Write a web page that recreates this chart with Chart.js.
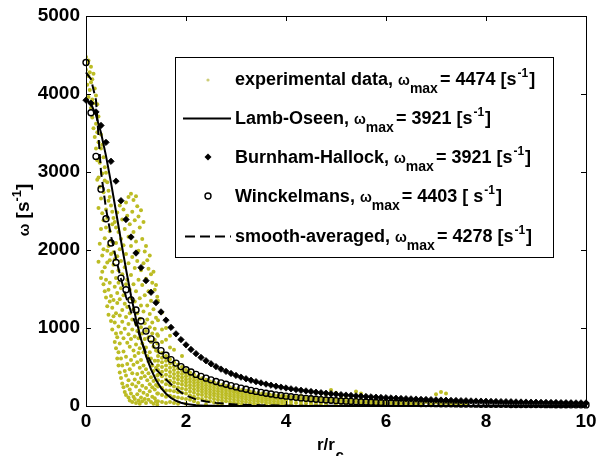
<!DOCTYPE html>
<html><head><meta charset="utf-8">
<script src="https://cdn.jsdelivr.net/npm/chart.js@4"></script>
<style>html,body{margin:0;padding:0;background:#fff}#wrap{width:596px;height:456px}</style>
</head><body><div id="wrap"><canvas id="c" width="596" height="456"></canvas></div>
<script>
// ---------- data ----------
const xTicks = [0, 2, 4, 6, 8, 10];
const yTicks = [0, 1000, 2000, 3000, 4000, 5000];

const legendNames = ['experimental data', 'Lamb-Oseen', 'Burnham-Hallock', 'Winckelmans', 'smooth-averaged'];
const legendMax = [4474, 3921, 3921, 4403, 4278];
const legendUnit = ['[s', '[s', '[s', '[ s', '[s'];

const modelR = [0,0.1,0.2,0.3,0.4,0.5,0.6,0.7,0.8,0.9,1,1.1,1.2,1.3,1.4,1.5,1.6,1.7,1.8,1.9,2,2.1,2.2,2.3,2.4,2.5,2.6,2.7,2.8,2.9,3,3.1,3.2,3.3,3.4,3.5,3.6,3.7,3.8,3.9,4,4.1,4.2,4.3,4.4,4.5,4.6,4.7,4.8,4.9,5,5.1,5.2,5.3,5.4,5.5,5.6,5.7,5.8,5.9,6,6.1,6.2,6.3,6.4,6.5,6.6,6.7,6.8,6.9,7,7.1,7.2,7.3,7.4,7.5,7.6,7.7,7.8,7.9,8,8.1,8.2,8.3,8.4,8.5,8.6,8.7,8.8,8.9,9,9.1,9.2,9.3,9.4,9.5,9.6,9.7,9.8,9.9,10];

const burnhamW = [3921,3882,3770,3597,3380,3137,2883,2632,2391,2166,1961,1774,1607,1458,1325,1206,1101,1008,925,851,784,725,671,623,580,541,505,473,444,417,392,370,349,330,312,296,281,267,254,242,231,220,210,201,193,185,177,170,163,157,151,145,140,135,130,125,121,117,113,109,106,103,99,96,93,91,88,85,83,81,78,76,74,72,70,68,67,65,63,62,60,59,57,56,55,54,52,51,50,49,48,47,46,45,44,43,42,41,40,40,39];

const winckW = [4403,3760,3200,2780,2400,2090,1840,1640,1490,1360,1230,1090,960,860,780,710,650,595,550,505,465,435,405,380,357,335,315,296,278,261,245,229,214,200,187,175,163,153,143,134,126,118,111,104,98,92,87,82,77,73,69,65,62,59,56,53,51,49,47,45,43,41,40,38,37,36,34,33,32,31,30,29,28,28,27,26,25,25,24,23,23,22,22,21,21,20,20,19,19,18,18,18,17,17,16,16,16,15,15,15,14];

const lambR = [0,0.1,0.2,0.3,0.4,0.5,0.6,0.7,0.8,0.9,1,1.1,1.2,1.3,1.4,1.5,1.6,1.7,1.8,1.9,2,2.2,2.4,2.6,2.8,3,3.5,4,5,6,7,8,9,10];
const lambW = [3921,3872,3729,3502,3207,2864,2494,2119,1755,1417,1116,858,642,469,334,232,157,104,67,42,26,9,4,2,1,0,0,0,0,0,0,0,0,0];

const smoothR = [0,0.1,0.2,0.3,0.4,0.5,0.6,0.7,0.8,0.9,1,1.1,1.2,1.3,1.4,1.5,1.6,1.7,1.8,1.9,2,2.2,2.4,2.6,2.8,3,3.5,4,5,6,7,8,9,10];
const smoothW = [4278,4190,3920,3000,2530,2180,1890,1630,1400,1210,1040,850,680,560,470,405,340,280,225,175,135,85,57,40,28,20,10,5,2,1,0,0,0,0];

// experimental scatter: [r, [omega values at that r]]
const expColumns = [
 [0,[4474,4310]],
 [0.025,[4390,4120]],
 [0.05,[4430,4230,3960]],
 [0.075,[4280,4050]],
 [0.1,[4350,4150,3820]],
 [0.125,[4190,3930,3700]],
 [0.15,[4260,3880,3560]],
 [0.175,[4070,3760,3450]],
 [0.2,[3980,3620,3300]],
 [0.225,[3870,3510,3150,2900]],
 [0.25,[3710,3380,2930,2540,1850]],
 [0.275,[3590,3120,2810,2080]],
 [0.3,[3480,3300,2660,2270,1640]],
 [0.325,[3350,2980,2470,1930,1720]],
 [0.35,[3190,2740,2380,2010,1560]],
 [0.375,[3060,2890,2150,1780,1470]],
 [0.4,[2990,2520,2290,1620,1390]],
 [0.425,[2870,2410,1990,1840,1280]],
 [0.45,[2760,2630,2050,1490,1170]],
 [0.475,[2680,2240,1870,1580,1340]],
 [0.5,[2570,2120,1950,1410,1090]],
 [0.525,[2490,2330,1720,1260,980]],
 [0.55,[2410,1970,1810,1360,1150]],
 [0.575,[2360,1880,1530,1070,820]],
 [0.6,[2290,2090,1640,1190,930,740]],
 [0.625,[2480,1920,1450,1320,880,610]],
 [0.65,[2230,1740,1580,1020,690,520]],
 [0.675,[2570,2010,1370,1160,800,430]],
 [0.7,[2140,1860,1510,940,610,360]],
 [0.725,[2390,1690,1230,1080,520,290]],
 [0.75,[2520,2060,1420,870,700,240]],
 [0.775,[2270,1780,1310,990,450,180]],
 [0.8,[2610,1950,1560,1140,630,390,140]],
 [0.825,[2440,1620,1270,810,540,260]],
 [0.85,[2680,2170,1830,1050,920,330,110]],
 [0.875,[2330,1490,1190,760,470,210,70]],
 [0.9,[2720,2050,1680,1380,860,590,160]],
 [0.925,[2490,1910,1110,980,420,280,50]],
 [0.95,[2640,2230,1560,1240,710,530,120]],
 [0.975,[2380,1770,1340,890,640,340,90]],
 [1,[2690,2110,1470,1050,790,250,40]],
 [1.025,[2560,1860,1190,960,560,410,150]],
 [1.05,[2430,1990,1620,870,680,300,70]],
 [1.075,[2290,1380,1120,740,490,200,30]],
 [1.1,[2510,1740,1290,1010,590,360,110]],
 [1.125,[2140,1550,930,800,430,260,60]],
 [1.15,[2360,1830,1210,690,520,170]],
 [1.175,[1980,1420,1060,860,380,90]],
 [1.2,[2050,1630,960,750,470,230,40]],
 [1.225,[1870,1290,1110,640,330,140]],
 [1.25,[1760,1470,880,570,420,80]],
 [1.275,[1930,1180,1010,690,280,190]],
 [1.3,[1690,1350,820,610,370,50]],
 [1.325,[1580,1070,930,520,240,120]],
 [1.35,[1720,1240,760,450,320,30]],
 [1.375,[1490,990,850,580,210,100]],
 [1.4,[1550,1130,710,490,270,60]],
 [1.425,[1400,920,800,390,160,20]],
 [1.44,[1350,1100,900,700,640,580,520,460,400,330,250,160,60]],
 [1.52,[1200,980,820,680,620,560,500,440,380,310,230,140,50]],
 [1.6,[1000,850,640,580,520,460,400,340,280,200,120,40]],
 [1.68,[900,750,600,545,490,435,380,325,265,200,130,50]],
 [1.76,[720,560,510,460,410,360,305,250,190,120,40]],
 [1.84,[530,480,430,385,340,290,235,175,110,30]],
 [1.92,[640,500,455,410,365,320,275,225,170,100]],
 [2,[460,420,380,340,300,260,210,160,90,30]],
 [2.08,[430,390,350,310,270,230,185,135,80]],
 [2.16,[400,365,330,295,255,215,170,120,60]],
 [2.24,[375,340,305,270,235,195,150,100,40]],
 [2.32,[355,320,285,250,215,180,140,90]],
 [2.4,[335,300,265,230,195,160,120,70,20]],
 [2.48,[315,285,250,215,180,145,105,60]],
 [2.56,[300,270,235,200,165,130,90,45]],
 [2.64,[285,255,220,190,155,120,80,35]],
 [2.72,[270,240,210,180,145,110,70,30]],
 [2.8,[255,225,195,165,135,100,60]],
 [2.88,[240,210,185,155,125,90,50,15]],
 [2.96,[225,200,175,145,115,80,45]],
 [3.04,[215,190,165,135,105,70,35]],
 [3.12,[205,180,155,125,95,60,25]],
 [3.2,[195,170,145,115,85,50]],
 [3.28,[185,160,135,105,75,40]],
 [3.36,[175,150,125,95,65,30]],
 [3.44,[165,140,115,90,60,25]],
 [3.52,[160,135,110,80,50]],
 [3.6,[150,125,100,75,45,15]],
 [3.68,[145,120,95,70,40]],
 [3.76,[140,115,90,60,30]],
 [3.84,[135,110,85,55,25]],
 [3.92,[130,105,80,50,20]],
 [4,[125,100,75,45,15]],
 [4.1,[120,85,50,15]],
 [4.2,[115,80,40]],
 [4.3,[130,90,55,20]],
 [4.4,[105,70,35]],
 [4.5,[115,75,40,10]],
 [4.6,[100,60,25]],
 [4.7,[110,70,30]],
 [4.8,[150,95,55,20]],
 [4.9,[205,90,50]],
 [5,[170,85,45,15]],
 [5.1,[120,80,40]],
 [5.2,[95,55,20]],
 [5.3,[130,75,35]],
 [5.4,[185,90,50]],
 [5.5,[160,80,40,10]],
 [5.6,[85,45]],
 [5.7,[100,60,25]],
 [5.8,[75,35]],
 [5.9,[90,50,15]],
 [6,[70,30]],
 [6.1,[80,40]],
 [6.2,[65,25]],
 [6.3,[75,35]],
 [6.4,[60,20]],
 [6.5,[70,30]],
 [6.6,[55,20]],
 [6.7,[65,25]],
 [6.8,[50]],
 [6.9,[60,20]],
 [7,[150,45]],
 [7.1,[180,55,15]],
 [7.2,[160,40]],
 [7.3,[50,15]],
 [7.4,[35]],
 [7.5,[45,10]],
 [7.6,[30]]
];

// ---------- build datasets ----------
const pair = (rs, ws) => rs.map((r, i) => ({x: r, y: ws[i]}));
const expData = [];
expColumns.forEach(([r, ws]) => ws.forEach(w => expData.push({x: r, y: w})));

const FAM = '"Liberation Sans", Arial, Helvetica, sans-serif';
const EXP_COLOR = 'rgb(188,188,36)';

const decor = {
  id: 'decor',
  afterDraw(chart) {
    const {ctx, chartArea: a, scales: {x, y}} = chart;
    ctx.save();
    ctx.strokeStyle = '#000';
    ctx.lineWidth = 1;
    ctx.setLineDash([]);
    ctx.strokeRect(a.left + 0.5, a.top + 0.5, a.right - a.left, a.bottom - a.top);
    ctx.beginPath();
    xTicks.forEach(v => {
      const px = Math.round(x.getPixelForValue(v)) + 0.5;
      ctx.moveTo(px, a.bottom); ctx.lineTo(px, a.bottom - 5);
      ctx.moveTo(px, a.top); ctx.lineTo(px, a.top + 5);
    });
    yTicks.forEach(v => {
      const py = Math.round(y.getPixelForValue(v)) + 0.5;
      ctx.moveTo(a.left, py); ctx.lineTo(a.left + 5, py);
      ctx.moveTo(a.right, py); ctx.lineTo(a.right - 5, py);
    });
    ctx.stroke();

    ctx.fillStyle = '#000';
    ctx.textBaseline = 'alphabetic';
    ctx.textAlign = 'left';
    const put = (t, f, cx, cy) => { ctx.font = f; ctx.fillText(t, cx, cy); return cx + ctx.measureText(t).width; };

    // y-axis title (rotated)
    ctx.save();
    ctx.translate(29, 210);
    ctx.rotate(-Math.PI / 2);
    const yParts = [['ω', 'bold 15px ' + FAM, 0], [' [s', 'bold 19px ' + FAM, 0], ['-1', 'bold 13px ' + FAM, -8], [']', 'bold 19px ' + FAM, 0]];
    let tot = 0;
    yParts.forEach(p => { ctx.font = p[1]; tot += ctx.measureText(p[0]).width; });
    let cx = -tot / 2;
    yParts.forEach(p => { cx = put(p[0], p[1], cx, p[2]); });
    ctx.restore();

    // x-axis title
    let xx = put('r/r', 'bold 17px ' + FAM, 317, 450);
    put('c', 'bold 15px ' + FAM, xx + 0.5, 460);

    // legend
    const L = 175.5, T = 57.5, W = 378, H = 200;
    ctx.fillStyle = '#fff';
    ctx.fillRect(L, T, W, H);
    ctx.strokeStyle = '#000';
    ctx.strokeRect(L, T, W, H);
    const mainF = 'bold 18px ' + FAM, omF = 'bold 14px ' + FAM, subF = 'bold 14px ' + FAM, supF = 'bold 12px ' + FAM;
    for (let i = 0; i < legendNames.length; i++) {
      const b = Math.round(84.5 + i * 39.3);
      const sy = b - 6 + 0.5;
      ctx.strokeStyle = '#000'; ctx.fillStyle = '#000';
      if (i === 0) {
        ctx.fillStyle = 'rgb(205,205,120)';
        ctx.beginPath(); ctx.arc(208, b - 5, 1.6, 0, Math.PI * 2); ctx.fill();
      } else if (i === 1) {
        ctx.lineWidth = 2; ctx.setLineDash([]);
        ctx.beginPath(); ctx.moveTo(183, sy); ctx.lineTo(231, sy); ctx.stroke();
      } else if (i === 2) {
        ctx.beginPath(); ctx.moveTo(208, b - 9.5); ctx.lineTo(211.5, b - 6); ctx.lineTo(208, b - 2.5); ctx.lineTo(204.5, b - 6); ctx.closePath(); ctx.fill();
      } else if (i === 3) {
        ctx.lineWidth = 1.4; ctx.setLineDash([]);
        ctx.beginPath(); ctx.arc(208, b - 6, 3, 0, Math.PI * 2); ctx.stroke();
      } else {
        ctx.lineWidth = 2; ctx.setLineDash([10, 5]);
        ctx.beginPath(); ctx.moveTo(185, sy); ctx.lineTo(231, sy); ctx.stroke();
        ctx.setLineDash([]);
      }
      ctx.fillStyle = '#000';
      let c = 235;
      c = put(legendNames[i] + ', ', mainF, c, b);
      c = put('ω', omF, c, b);
      c = put('max', subF, c, b + 8) + 2;
      c = put('= ' + legendMax[i] + ' ' + legendUnit[i], mainF, c, b);
      c = put('-1', supF, c + 1, b - 8);
      put(']', mainF, c + 1, b);
    }
    ctx.restore();
  }
};

const tickFont = {family: FAM, size: 19, weight: 'bold'};

new Chart(document.getElementById('c'), {
  type: 'scatter',
  data: {
    datasets: [
      {label: 'Winckelmans', data: pair(modelR, winckW), showLine: false, pointStyle: 'circle', pointRadius: 3, pointBorderWidth: 1.4, pointBorderColor: '#000', pointBackgroundColor: 'rgba(0,0,0,0)', order: 0, clip: false},
      {label: 'Burnham-Hallock', data: pair(modelR, burnhamW), showLine: false, pointStyle: 'rectRot', pointRadius: 3.2, pointBorderWidth: 0.8, pointBorderColor: '#000', pointBackgroundColor: '#000', order: 1, clip: false},
      {label: 'Lamb-Oseen', data: pair(lambR, lambW), showLine: true, borderColor: '#000', borderWidth: 2, pointRadius: 0, fill: false, order: 2, clip: false},
      {label: 'smooth-averaged', data: pair(smoothR, smoothW), showLine: true, borderColor: '#000', borderWidth: 2, borderDash: [9, 5], pointRadius: 0, fill: false, order: 3, clip: false},
      {label: 'experimental data', data: expData, showLine: false, pointStyle: 'circle', pointRadius: 2, pointBorderWidth: 0, pointBackgroundColor: EXP_COLOR, pointBorderColor: EXP_COLOR, order: 4}
    ]
  },
  options: {
    responsive: false,
    animation: false,
    events: [],
    layout: {padding: {top: 16, right: 10, bottom: 0, left: 0}},
    plugins: {legend: {display: false}, tooltip: {enabled: false}},
    scales: {
      x: {
        type: 'linear', min: 0, max: 10,
        afterBuildTicks(s) { s.ticks = xTicks.map(v => ({value: v})); },
        ticks: {font: tickFont, color: '#000', padding: 4, maxRotation: 0, autoSkip: false, callback: v => String(v)},
        grid: {display: false, drawTicks: false},
        border: {display: false},
        afterFit(s) { s.height = 50; s.paddingLeft = 0; s.paddingRight = 0; }
      },
      y: {
        type: 'linear', min: 0, max: 5000,
        afterBuildTicks(s) { s.ticks = yTicks.map(v => ({value: v})); },
        ticks: {font: tickFont, color: '#000', padding: 6, autoSkip: false, callback: v => String(v)},
        grid: {display: false, drawTicks: false},
        border: {display: false},
        afterFit(s) { s.width = 86; s.paddingTop = 0; s.paddingBottom = 0; }
      }
    }
  },
  plugins: [decor]
});
</script>
</body></html>
